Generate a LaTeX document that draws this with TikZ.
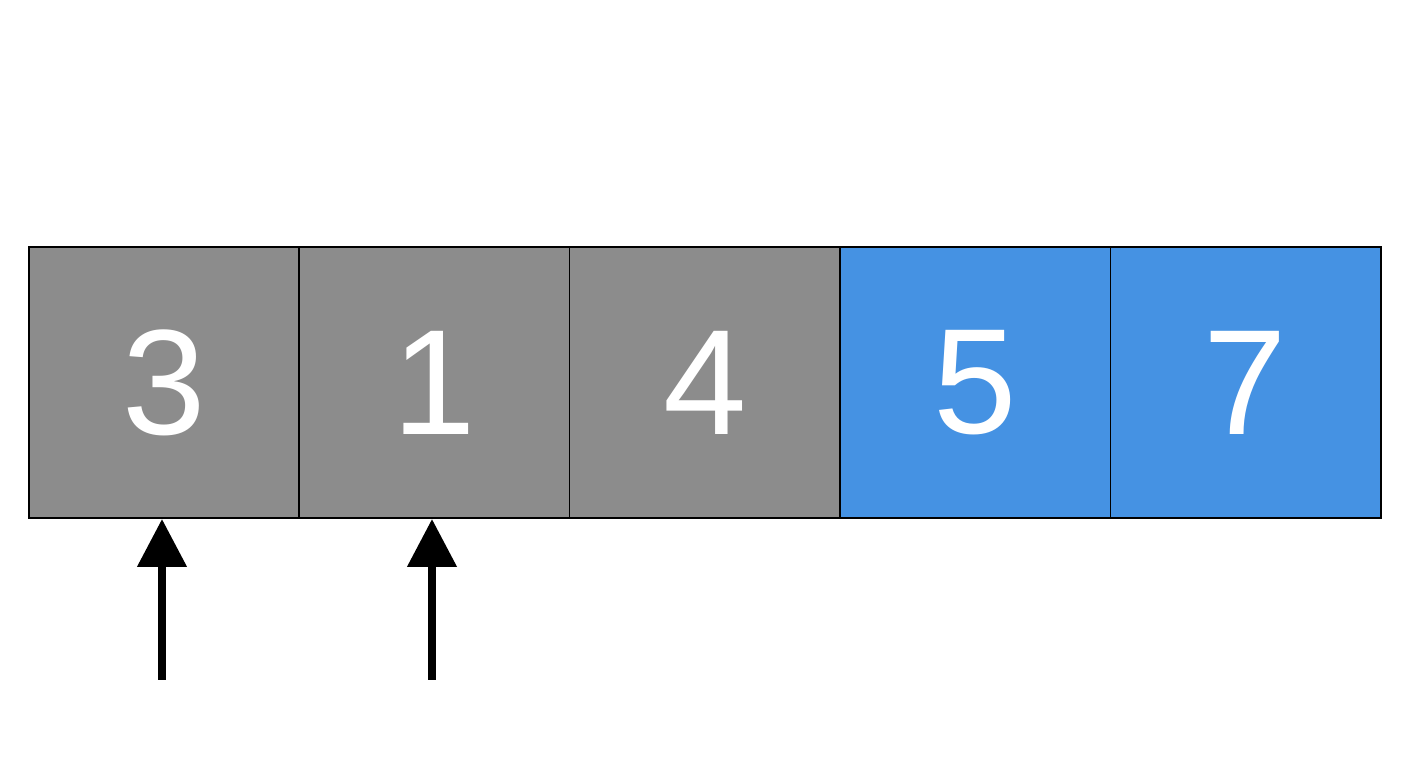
\documentclass[tikz,border=0pt]{standalone}
\usepackage{fontspec}
\setmainfont{Liberation Sans}
\usetikzlibrary{arrows.meta}
\definecolor{cgray}{HTML}{8C8C8C}
\definecolor{cblue}{HTML}{4592E3}
\tikzset{cell/.style={draw=black,line width=1.5pt,minimum width=270.4pt,minimum height=271pt,inner sep=0pt,anchor=south west,text=white,font=\fontsize{150}{150}\selectfont},
ptr/.style={line width=8pt,-{Triangle[width=48pt,length=48pt]}}}
\begin{document}
\begin{tikzpicture}[x=1pt,y=1pt]
\useasboundingbox (0,0) rectangle (1408,768);
\node[cell,fill=cgray] (c1) at (28,249) {3};
\node[cell,fill=cgray] (c2) at (298.4,249) {1};
\node[cell,fill=cgray] (c3) at (568.8,249) {4};
\node[cell,fill=cblue] (c4) at (839.2,249) {5};
\node[cell,fill=cblue] (c5) at (1109.6,249) {7};
\coordinate (p1) at (162,88);
\coordinate (p2) at (432,88);
\draw[ptr] (p1) -- (p1 |- c1.south);
\draw[ptr] (p2) -- (p2 |- c2.south);
\end{tikzpicture}
\end{document}
